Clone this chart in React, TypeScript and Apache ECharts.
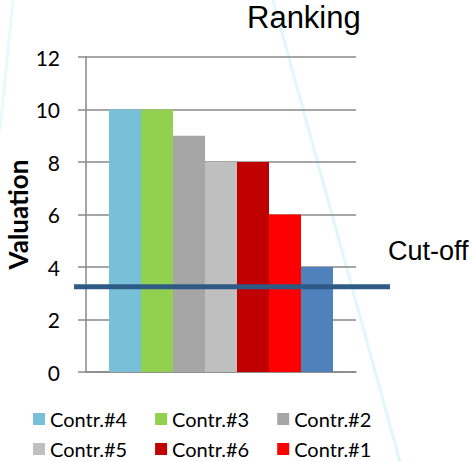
import React, { useEffect, useRef } from "react";
import * as echarts from "echarts";

const CATEGORIES = [""];
const SERIES_NAMES = ["Contr.#4", "Contr.#3", "Contr.#2", "Contr.#5", "Contr.#6", "Contr.#1", "Contr.#7"];
const SERIES_VALUES = [10, 10, 9, 8, 8, 6, 4];
const SERIES_COLORS = ["#78C0D7", "#92D050", "#A6A6A6", "#BFBFBF", "#C00000", "#FF0000", "#4F81BD"];
const LEGEND_ROW1 = ["Contr.#4", "Contr.#3", "Contr.#2"];
const LEGEND_ROW2 = ["Contr.#5", "Contr.#6", "Contr.#1"];
const Y_MIN = 0;
const Y_MAX = 12;
const Y_INTERVAL = 2;
const CUTOFF = 3.25;
const TITLE = "Ranking";
const Y_NAME = "Valuation";
const CUTOFF_LABEL = "Cut-off";

const FONT = "Lato, 'Noto Sans', sans-serif";
const ARIAL = "'Liberation Sans', Arial, sans-serif";

export default function App() {
  const ref = useRef<HTMLDivElement>(null);
  useEffect(() => {
    if (!ref.current) return;
    const chart = echarts.init(ref.current, undefined, { renderer: "svg" });
    const legendCommon = {
      left: 33,
      orient: "horizontal",
      padding: 0,
      itemWidth: 12,
      itemHeight: 12,
      itemGap: 28,
      icon: "rect",
      textStyle: { fontFamily: FONT, fontSize: 20, color: "#000", width: 80 },
    };
    chart.setOption({
      animation: false,
      backgroundColor: "#fff",
      title: {
        text: TITLE,
        left: 247,
        top: 2,
        padding: 0,
        textStyle: { fontFamily: ARIAL, fontSize: 31, fontWeight: "normal", color: "#000" },
      },
      legend: [
        { ...legendCommon, top: 409, data: LEGEND_ROW1 },
        { ...legendCommon, top: 439, data: LEGEND_ROW2 },
      ],
      grid: { left: 86, right: 116, top: 57, bottom: 90, containLabel: false, outerBoundsMode: "none" },
      xAxis: {
        type: "category",
        data: CATEGORIES,
        axisLine: { show: true, lineStyle: { color: "#888", width: 1.5 } },
        axisTick: { show: false },
        axisLabel: { show: false },
      },
      yAxis: {
        type: "value",
        min: Y_MIN,
        max: Y_MAX,
        interval: Y_INTERVAL,
        name: Y_NAME,
        nameLocation: "middle",
        nameRotate: 90,
        nameGap: 55,
        nameMoveOverlap: false,
        nameTextStyle: { fontFamily: FONT, fontSize: 26, fontWeight: "bold", color: "#000" },
        axisLine: { show: true, lineStyle: { color: "#888", width: 1.5 } },
        axisTick: { show: true, length: 8, lineStyle: { color: "#888", width: 1.5 } },
        axisLabel: { margin: 26, fontFamily: FONT, fontSize: 21, color: "#000" },
        splitLine: { show: true, lineStyle: { color: "#888", width: 1.5 } },
      },
      series: SERIES_NAMES.map((name, i) => ({
        name,
        type: "bar",
        data: [SERIES_VALUES[i]],
        barWidth: 32,
        barGap: "0%",
        itemStyle: { color: SERIES_COLORS[i] },
        z: 3,
      })),
    });
    const yCut = chart.convertToPixel({ yAxisIndex: 0 }, CUTOFF) as number;
    chart.setOption({
      graphic: [
        {
          type: "line",
          z: -10,
          silent: true,
          shape: { x1: 273, y1: 0, x2: 400, y2: 462 },
          style: { stroke: "#E0F8FB", lineWidth: 3 },
        },
        {
          type: "line",
          z: -10,
          silent: true,
          shape: { x1: 13, y1: 0, x2: 0, y2: 130 },
          style: { stroke: "#E9F9FB", lineWidth: 3 },
        },
        {
          type: "line",
          z: 100,
          silent: true,
          shape: { x1: 74, y1: yCut, x2: 390, y2: yCut },
          style: { stroke: "#2E5A86", lineWidth: 5 },
        },
        {
          type: "text",
          z: 100,
          x: 388,
          y: 251,
          style: {
            text: CUTOFF_LABEL,
            fontFamily: ARIAL,
            fontSize: 27,
            fill: "#000",
            verticalAlign: "middle",
          },
        },
      ],
    });
    return () => chart.dispose();
  }, []);
  return <div ref={ref} style={{ width: 472, height: 462, position: "absolute", left: 0, top: 0 }} />;
}
